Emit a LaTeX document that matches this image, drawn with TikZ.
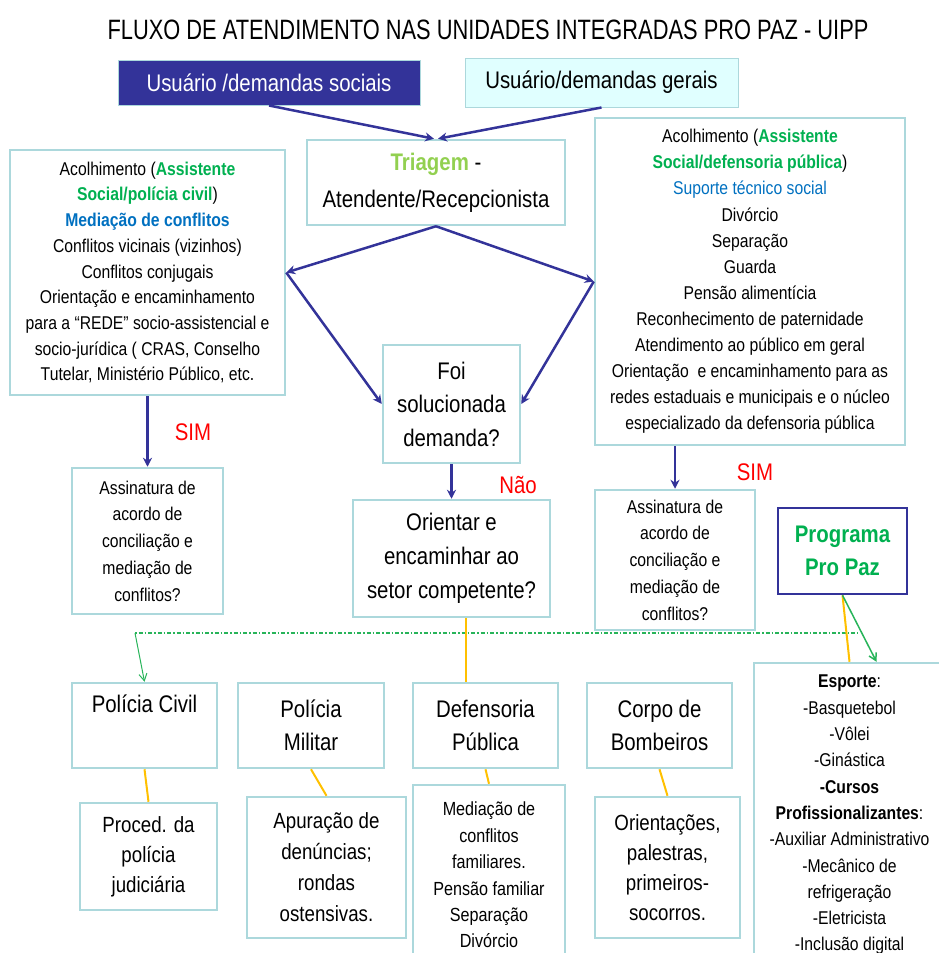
\documentclass[tikz,border=0pt]{standalone}
\usepackage{fontspec}
\setmainfont{Liberation Sans}[FakeStretch=0.85]
\newfontfamily\fonttitulo{Liberation Sans}[FakeStretch=0.78]
\usetikzlibrary{arrows.meta,calc}
\definecolor{azulescuro}{RGB}{51,51,153}
\definecolor{bordaclara}{RGB}{172,216,220}
\definecolor{ciano}{RGB}{224,255,255}
\definecolor{verdetexto}{RGB}{0,176,80}
\definecolor{azultexto}{RGB}{0,112,192}
\definecolor{verdetriagem}{RGB}{146,208,80}
\definecolor{laranja}{RGB}{255,192,0}
\definecolor{verdelinha}{RGB}{40,180,90}
\newcommand{\tamanho}[2]{\fontsize{#1}{#2}\selectfont}
\newcommand{\verde}[1]{{\color{verdetexto}\bfseries #1}}
\begin{document}
\begin{tikzpicture}[x=1pt, y=-1pt,
  caixa/.style={draw=bordaclara, line width=2.5pt, align=center, inner sep=2pt},
  seta/.style={-{Stealth[length=9pt, width=9pt]}, line width=2.5pt, draw=azulescuro},
  ligacao/.style={draw=laranja, line width=2pt},
  rotulo/.style={text=red, font=\tamanho{24}{28}}]
\useasboundingbox (0,0) rectangle (939,953);
% titulo e usuarios
\node[font=\fonttitulo\tamanho{28}{32}] (titulo) at (488,30) {FLUXO DE ATENDIMENTO NAS UNIDADES INTEGRADAS PRO PAZ - UIPP};
\node[fill=azulescuro, draw=bordaclara, line width=1pt, text=white, minimum width=302, minimum height=45, font=\tamanho{24}{28}] (sociais) at (269,82.5) {Usuário /demandas sociais};
\node[fill=ciano, draw=bordaclara, line width=1pt, minimum width=273, minimum height=49, font=\tamanho{24}{28}] (gerais) at (601.5,82.5) {Usuário/demandas gerais};
\node[caixa, minimum width=258, minimum height=85, font=\tamanho{24}{37}] (triagem) at (436,182.5) {{\color{verdetriagem}\bfseries Triagem} -\\ Atendente/Recepcionista};
% acolhimento
\node[caixa, minimum width=275, minimum height=245, font=\tamanho{18.5}{25.7}] (esq) at (147.5,272.5) {Acolhimento (\verde{Assistente}\\ \verde{Social/polícia civil})\\ {\color{azultexto}\bfseries Mediação de conflitos}\\ Conflitos vicinais (vizinhos)\\ Conflitos conjugais\\ Orientação e encaminhamento\\ para a “REDE” socio-assistencial e\\ socio-jurídica ( CRAS, Conselho\\ Tutelar, Ministério Público, etc.};
\node[caixa, minimum width=310, minimum height=327, font=\tamanho{18.5}{26.1}] (dir) at (750,281.5) {Acolhimento (\verde{Assistente}\\ \verde{Social/defensoria pública})\\ {\color{azultexto}Suporte técnico social}\\ Divórcio\\ Separação\\ Guarda\\ Pensão alimentícia\\ Reconhecimento de paternidade\\ Atendimento ao público em geral\\ Orientação\ \ e encaminhamento para as\\ redes estaduais e municipais e o núcleo\\ especializado da defensoria pública};
% decisao
\node[caixa, minimum width=137, minimum height=118, font=\tamanho{24}{33.5}] (foi) at (451.5,404) {Foi\\ solucionada\\ demanda?};
\node[caixa, minimum width=197, minimum height=117, font=\tamanho{24}{34}] (orientar) at (451.5,558.5) {Orientar e\\ encaminhar ao\\ setor competente?};
\node[caixa, minimum width=151, minimum height=146, font=\tamanho{18.5}{26.7}] (assinEsq) at (147.5,541) {Assinatura de\\ acordo de\\ conciliação e\\ mediação de\\ conflitos?};
\node[caixa, minimum width=160, minimum height=140, font=\tamanho{18.5}{26.7}] (assinDir) at (675,560) {Assinatura de\\ acordo de\\ conciliação e\\ mediação de\\ conflitos?};
\node[draw=azulescuro, line width=2.5pt, align=center, minimum width=129, minimum height=86, text=verdetexto, font=\bfseries\tamanho{24}{33}] (programa) at (842.5,551) {Programa\\ Pro Paz};
\node[rotulo] (simEsq) at (193,432) {SIM};
\node[rotulo] (nao) at (518,485) {Não};
\node[rotulo] (simDir) at (755,472) {SIM};
% orgaos
\node[caixa, minimum width=145, minimum height=85, font=\tamanho{24}{33}] (civil) at (144.5,725.5) {Polícia Civil\\ \strut};
\node[caixa, minimum width=146, minimum height=85, font=\tamanho{24}{33}] (militar) at (311,725.5) {Polícia\\ Militar};
\node[caixa, minimum width=145, minimum height=85, font=\tamanho{24}{33}] (defensoria) at (485.5,725.5) {Defensoria\\ Pública};
\node[caixa, minimum width=145, minimum height=85, font=\tamanho{24}{33}] (bombeiros) at (659.5,725.5) {Corpo de\\ Bombeiros};
\node[caixa, minimum width=191, minimum height=304, font=\tamanho{18.5}{26.3}] (esporte) at (849.5,815) {\textbf{Esporte}:\\ -Basquetebol\\ -Vôlei\\ -Ginástica\\ \textbf{-Cursos}\\ \textbf{Profissionalizantes}:\\ -Auxiliar Administrativo\\ -Mecânico de\\ refrigeração\\ -Eletricista\\ -Inclusão digital};
\node[caixa, minimum width=137, minimum height=107, font=\tamanho{22}{30}] (proced) at (148.5,856.5) {Proced. da\\ polícia\\ judiciária};
\node[caixa, minimum width=159, minimum height=141, font=\tamanho{22}{31}] (apuracao) at (326.5,867.5) {Apuração de\\ denúncias;\\ rondas\\ ostensivas.};
\node[caixa, minimum width=152, minimum height=180, font=\tamanho{19}{26.4}] (mediacao) at (489,875) {Mediação de\\ conflitos\\ familiares.\\ Pensão familiar\\ Separação\\ Divórcio};
\node[caixa, minimum width=145, minimum height=141, font=\tamanho{22}{30}] (orientacoes) at (667.5,867.5) {Orientações,\\ palestras,\\ primeiros-\\ socorros.};
% setas
\draw [seta] (sociais.south) -- ([xshift=-2pt]triagem.north);
\draw [seta] (gerais.south) -- ([xshift=2pt]triagem.north);
\draw [seta] (triagem.south) -- (esq.east);
\draw [seta] (triagem.south) -- (dir.west);
\draw [seta] (esq.east) -- (foi.west);
\draw [seta] (dir.west) -- (foi.east);
\draw [seta] (foi.south) -- (orientar.north);
\draw [seta] (esq.south) -- (assinEsq.north);
\draw [seta] (assinDir.north |- dir.south) -- (assinDir.north);
% linha pontilhada
\coordinate (pontoA) at (135,633);
\coordinate (pontoB) at (858,633);
\draw[verdelinha, line width=2pt, dash pattern=on 1.5pt off 2pt on 4pt off 2pt] (pontoA) -- (pontoB);
\draw[verdelinha, line width=1pt, -{Straight Barb[length=7pt, width=8pt]}] (pontoA) -- (civil.north);
\path (orientar.south) ++(14,0) coordinate (saida);
\draw[ligacao] (saida) -- (saida |- defensoria.north);
\draw[ligacao] (programa.south) -- (esporte.north);
\draw[verdelinha, line width=1.5pt, -{Straight Barb[length=7pt, width=8pt]}] (programa.south) -- ([xshift=27pt]esporte.north);
\draw[ligacao] (civil.south) -- (proced.north);
\draw[ligacao] (militar.south) -- (apuracao.north);
\draw[ligacao] (defensoria.south) -- (mediacao.north);
\draw[ligacao] (bombeiros.south) -- (orientacoes.north);
\end{tikzpicture}
\end{document}
